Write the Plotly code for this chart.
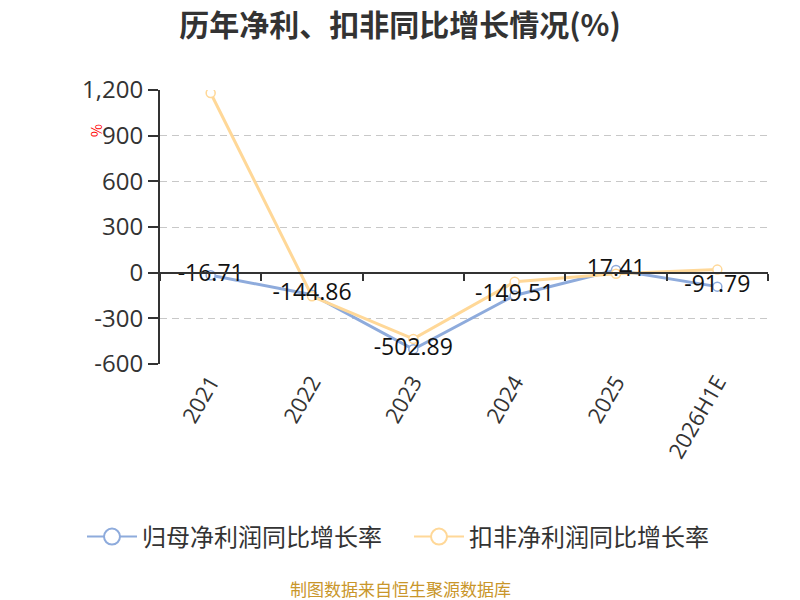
import plotly.graph_objects as go

# 历年净利、扣非同比增长情况
years = ["2021", "2022", "2023", "2024", "2025", "2026H1E"]
net_profit_growth = [-16.71, -144.86, -502.89, -149.51, 17.41, -91.79]
deducted_growth = [1180, -155, -435, -60, -7, 20]
y_ticks = [-600, -300, 0, 300, 600, 900, 1200]
y_tick_text = ["-600", "-300", "0", "300", "600", "900", "1,200"]

font_cn = "Noto Sans CJK SC, Microsoft YaHei, sans-serif"
font_num = "Open Sans, Noto Sans, sans-serif"
blue = "#8eabdc"
orange = "#ffd898"

# plot area is wider than the visible axes so the legend fits on one row
L, R, T, B = 60, 32, 82, 236
W, H = 792, 592
pw = W - L - R
x_dom = [(152 - L) / pw, 1]

fig = go.Figure()

fig.add_trace(go.Scatter(
    x=years, y=net_profit_growth, name="归母净利润同比增长率",
    mode="lines+markers", showlegend=False,
    line=dict(color=blue, width=3),
    marker=dict(symbol="circle", size=9, color="white", line=dict(color=blue, width=1.5)),
))
fig.add_trace(go.Scatter(
    x=years, y=deducted_growth, name="扣非净利润同比增长率",
    mode="lines+markers", showlegend=False,
    line=dict(color=orange, width=3),
    marker=dict(symbol="circle", size=9, color="white", line=dict(color=orange, width=1.5)),
))
# value labels for 归母净利润 drawn on top
fig.add_trace(go.Scatter(
    x=years, y=net_profit_growth, mode="text",
    text=[f"{v:.2f}" for v in net_profit_growth],
    textposition="middle center",
    textfont=dict(size=23, color="#111", family=font_num),
    showlegend=False, hoverinfo="skip",
))
# legend entries with bigger symbols
for name, col in [("归母净利润同比增长率", blue), ("扣非净利润同比增长率", orange)]:
    fig.add_trace(go.Scatter(
        x=[years[0]], y=[None], name=name, mode="lines+markers",
        line=dict(color=col, width=2),
        marker=dict(symbol="circle", size=16, color="white", line=dict(color=col, width=2)),
    ))
# helper trace so the axis at zero gets drawn
fig.add_trace(go.Scatter(x=years, y=[None] * len(years), xaxis="x2",
                         showlegend=False, hoverinfo="skip"))

fig.update_layout(
    width=W, height=H,
    paper_bgcolor="white", plot_bgcolor="white",
    margin=dict(l=L, r=R, t=T, b=B),
    title=dict(text="<b>历年净利、扣非同比增长情况(%)</b>", x=392 / W, xanchor="center",
               y=1 - 17 / H, yanchor="middle",
               font=dict(size=30, color="#333", family=font_cn)),
    font=dict(family=font_cn, color="#333"),
    xaxis=dict(
        type="category", range=[-0.5, 5.5], domain=x_dom,
        showline=False, ticks="", showgrid=False,
        tickangle=-60, tickfont=dict(size=22, color="#333", family=font_num),
    ),
    xaxis2=dict(
        type="category", range=[-0.5, 5.5], overlaying="x", domain=x_dom,
        anchor="free", position=1 / 3, side="bottom",
        showline=True, linecolor="#333", linewidth=2,
        ticks="outside", tickson="boundaries", ticklen=7, tickwidth=2, tickcolor="#333",
        showticklabels=False, showgrid=False,
    ),
    yaxis=dict(
        range=[-600, 1200], tickvals=y_ticks, ticktext=y_tick_text,
        showline=True, linecolor="#333", linewidth=2,
        ticks="outside", ticklen=10, tickwidth=2, tickcolor="#333",
        showgrid=True, gridcolor="#c8c8c8", griddash="7px,5px", gridwidth=1,
        zeroline=False,
        tickfont=dict(size=24, color="#333", family=font_num),
    ),
    legend=dict(
        orientation="h", x=(401 - L) / pw, xanchor="center",
        y=-(529 - 356) / 274, yanchor="middle",
        itemwidth=50, entrywidth=262, entrywidthmode="pixels",
        font=dict(size=24, color="#333", family=font_cn),
    ),
    showlegend=True,
)

fig.add_annotation(
    text="%", xref="paper", yref="paper", x=(88 - L) / pw, y=0.85,
    xanchor="center", yanchor="middle",
    showarrow=False, textangle=-90, font=dict(size=14, color="red"),
)
fig.add_annotation(
    text="制图数据来自恒生聚源数据库", xref="paper", yref="paper",
    x=(392 - L) / pw, y=-(580 - 356) / 274, yanchor="middle", showarrow=False,
    font=dict(size=17, color="#c9962a", family=font_cn),
)

fig.write_html("out.html")
